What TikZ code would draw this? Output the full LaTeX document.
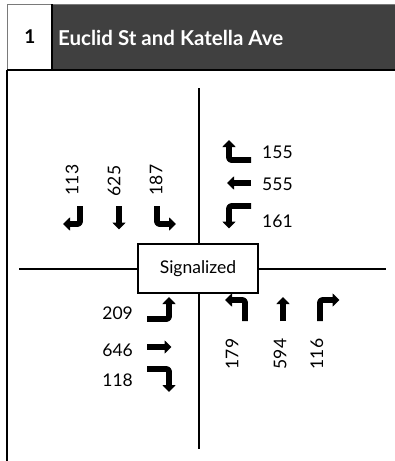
\documentclass[tikz,border=0pt]{standalone}
\usepackage{fontspec}
\setmainfont{Lato}
\usetikzlibrary{arrows.meta}
\definecolor{hdr}{HTML}{404040}
\definecolor{frame}{HTML}{7A7A7A}
\begin{document}
\begin{tikzpicture}[x=1pt,y=-1pt,
  mv/.style={line width=5.8pt,line join=round,rounded corners=2.5pt,-{Triangle[width=13pt,length=7pt]}},
  vol/.style={font=\fontsize{17.5}{20}\selectfont,inner sep=0pt},
  road/.style={line width=1.3pt}]
\useasboundingbox (0,0) rectangle (395,461);
% header
\fill[hdr] (52,4) rectangle (395,70);
\fill[white] (7,4) rectangle (52,70);
\draw[frame,line width=1pt] (7,461) -- (7,4) -- (395,4);
\draw[black,line width=2.2pt] (52,4) -- (52,70);
\draw[black,line width=2pt] (7,70) -- (395,70);
\draw[line width=1.2pt] (7,70) -- (7,461);
\node[font=\fontsize{19}{22}\bfseries\selectfont,inner sep=0pt] (num) at (30,37) {1};
\node[font=\fontsize{20.5}{22}\bfseries\selectfont,text=white,anchor=west,inner sep=0pt] (title) at (58,37.5) {Euclid St and Katella Ave};
% roads
\coordinate (nN) at (199,88);
\coordinate (nS) at (199,449);
\coordinate (nW) at (19,269);
\coordinate (nE) at (386,269);
\draw[road] (nN) -- (nS);
\draw[road] (nW) -- (nE);
\node[draw,line width=1.1pt,fill=white,minimum width=120pt,minimum height=49pt,font=\fontsize{17.5}{20}\selectfont] (sig) at (198,268.5) {Signalized};
% southbound
\draw[mv] (80,206) -- (80,224) -- (63,224);
\draw[mv] (119,206) -- (119,216) -- (119,229.5);
\draw[mv] (157,206) -- (157,224) -- (176,224);
\node[vol,rotate=90] (s1) at (72,180) {113};
\node[vol,rotate=90] (s2) at (114,181) {625};
\node[vol,rotate=90] (s3) at (156,180) {187};
% westbound
\draw[mv] (251,160) -- (229,160) -- (229,140);
\draw[mv] (251,183) -- (240,183) -- (227,183);
\draw[mv] (251,206) -- (229,206) -- (229,228.5);
\node[vol,anchor=west] (w1) at (262,152) {155};
\node[vol,anchor=west] (w2) at (262,184) {555};
\node[vol,anchor=west] (w3) at (262,221) {161};
% eastbound
\draw[mv] (147,319) -- (169,319) -- (169,297);
\draw[mv] (147,347) -- (158,347) -- (171.5,347);
\draw[mv] (147,369) -- (169,369) -- (169,392);
\node[vol,anchor=east] (e1) at (133,313) {209};
\node[vol,anchor=east] (e2) at (133,350) {646};
\node[vol,anchor=east] (e3) at (133,380) {118};
% northbound
\draw[mv] (245,321) -- (245,300) -- (225,300);
\draw[mv] (283,321) -- (283,310) -- (283,297);
\draw[mv] (320,321) -- (320,300) -- (339.5,300);
\node[vol,rotate=90] (n1) at (232,354) {179};
\node[vol,rotate=90] (n2) at (280,354) {594};
\node[vol,rotate=90] (n3) at (317,354) {116};
\end{tikzpicture}
\end{document}
